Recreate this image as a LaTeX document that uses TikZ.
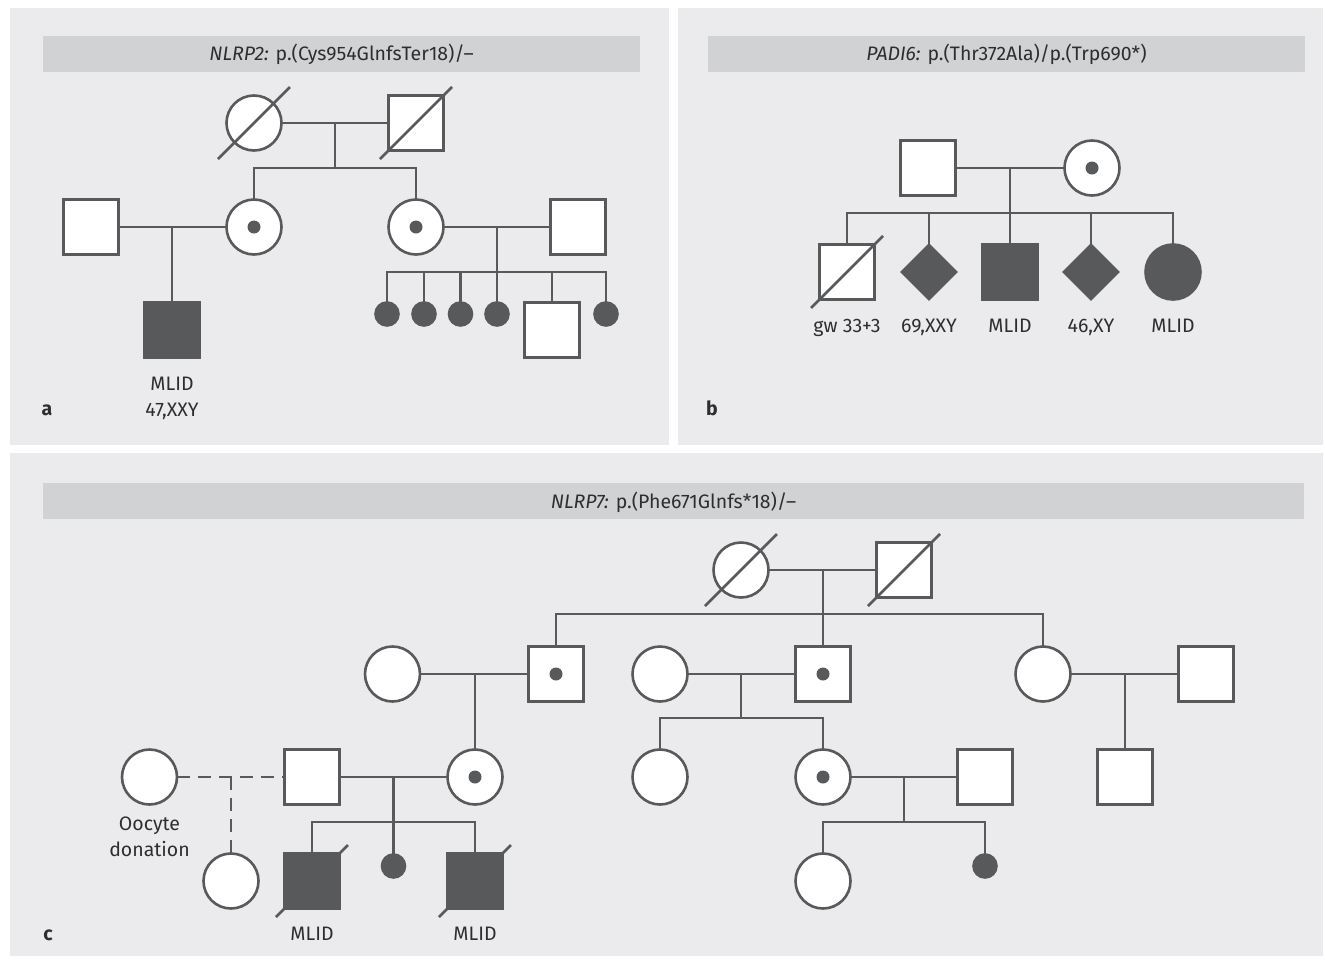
\documentclass[tikz,border=0pt]{standalone}
\usepackage{fontspec}
\setmainfont{Fira Sans}
\usetikzlibrary{shapes.geometric}
\definecolor{ln}{HTML}{58595B}
\definecolor{panel}{HTML}{EBEBED}
\definecolor{bar}{HTML}{D1D2D4}
\definecolor{txt}{HTML}{2E2E2E}
\newcommand\carrierdot[1]{\fill[ln] (#1.center) circle (6.5);}
\newcommand\deadslash[1]{\draw[link] ([shift={(-36,36)}]#1.center) -- ([shift={(36,-36)}]#1.center);}
\begin{document}
\begin{tikzpicture}[x=1pt,y=-1pt,
  every node/.style={font=\fontsize{19.5}{23}\selectfont, text=txt},
  base/.style={draw=ln, line width=2.6pt, fill=white, inner sep=0pt, outer sep=0pt},
  male/.style={base, rectangle, minimum size=55pt},
  female/.style={base, circle, minimum size=55pt},
  unk/.style={base, diamond, minimum width=54pt, minimum height=54pt},
  aff/.style={fill=ln},
  tiny/.style={base, circle, fill=ln, minimum size=23pt},
  lbl/.style={inner sep=0pt, anchor=base},
  plabel/.style={inner sep=0pt, anchor=base, font=\fontsize{19.5}{23}\selectfont\bfseries},
  link/.style={draw=ln, line width=2.6pt},
  dlink/.style={link, dash pattern=on 13pt off 8pt}
]
\fill[white] (0,0) rectangle (1325,962);
\useasboundingbox (0,0) rectangle (1325,962);
% panels
\fill[panel] (10,8) rectangle (669,445);
\fill[panel] (678,8) rectangle (1323,445);
\fill[panel] (10,453) rectangle (1323,956);
\fill[bar] (43,36) rectangle (640,72);
\fill[bar] (708,36) rectangle (1305,72);
\fill[bar] (43,483) rectangle (1304,519);
\node[lbl] (ta) at (341.5,60) {\textit{NLRP2:} p.(Cys954GlnfsTer18)/–};
\node[lbl] (tb) at (1006.5,60) {\textit{PADI6:} p.(Thr372Ala)/p.(Trp690*)};
\node[lbl] (tc) at (673.5,508) {\textit{NLRP7:} p.(Phe671Glnfs*18)/–};
\node[plabel] (la) at (47,415) {a};
\node[plabel] (lb) at (712,415) {b};
\node[plabel] (lc) at (48,940) {c};

% ---------- panel a ----------
\node[female] (aGM) at (254,123) {};
\node[male] (aGF) at (416,123) {};
\coordinate (aJ0) at (335,123);
\coordinate (aS0) at (335,168);
\node[male] (aF1) at (91,227) {};
\node[female] (aM1) at (254,227) {};
\node[female] (aM2) at (416,227) {};
\node[male] (aF2) at (578,227) {};
\coordinate (aJ1) at (172,227);
\coordinate (aJ2) at (497,227);
\coordinate (aS2) at (497,272);
\node[male,aff] (aC1) at (172,330) {};
\node[tiny] (aK1) at (387,314) {};
\node[tiny] (aK2) at (424,314) {};
\node[tiny] (aK3) at (460.5,314) {};
\node[tiny] (aK4) at (497,314) {};
\node[male] (aK5) at (552,330) {};
\node[tiny] (aK6) at (606,314) {};
\draw[link] (aGM) -- (aGF);
\draw[link] (aJ0) -- (aS0);
\draw[link] (aM1.north) |- (aS0) -| (aM2.north);
\draw[link] (aF1) -- (aM1);
\draw[link] (aJ1) -- (aC1.north);
\draw[link] (aM2) -- (aF2);
\draw[link] (aJ2) -- (aS2);
\draw[link] (aK1.north) |- (aS2) -| (aK6.north);
\draw[link] (aK2.north) -- (aK2.north |- aS2);
\draw[link] (aK3.north) -- (aK3.north |- aS2);
\draw[link] (aK4.north) -- (aK4.north |- aS2);
\draw[link] (aK5.north) -- (aK5.north |- aS2);
\deadslash{aGM}
\deadslash{aGF}
\carrierdot{aM1}
\carrierdot{aM2}
\node[lbl] (aT1) at (172,390) {MLID};
\node[lbl] (aT2) at (172,416) {47,XXY};

% ---------- panel b ----------
\node[male] (bF) at (928,168) {};
\node[female] (bM) at (1092,168) {};
\coordinate (bJ) at (1010,168);
\coordinate (bS) at (1010,213);
\node[male] (bC1) at (847,272) {};
\node[unk,aff] (bC2) at (929,272) {};
\node[male,aff] (bC3) at (1010,272) {};
\node[unk,aff] (bC4) at (1091,272) {};
\node[female,aff] (bC5) at (1173,272) {};
\draw[link] (bF) -- (bM);
\draw[link] (bJ) -- (bC3.north);
\draw[link] (bC1.north) |- (bS) -| (bC5.north);
\draw[link] (bC2.north) -- (bC2.north |- bS);
\draw[link] (bC4.north) -- (bC4.north |- bS);
\deadslash{bC1}
\carrierdot{bM}
\node[lbl] (bT1) at (847,332) {gw 33+3};
\node[lbl] (bT2) at (929,332) {69,XXY};
\node[lbl] (bT3) at (1010,332) {MLID};
\node[lbl] (bT4) at (1091,332) {46,XY};
\node[lbl] (bT5) at (1173,332) {MLID};

% ---------- panel c ----------
\node[female] (cGM) at (741,570) {};
\node[male] (cGF) at (904,570) {};
\coordinate (cJ0) at (823,570);
\coordinate (cS0) at (823,614);
% generation II
\node[female] (cA) at (392.5,674) {};
\node[male] (cB) at (556,674) {};
\node[female] (cC) at (660,674) {};
\node[male] (cD) at (823,674) {};
\node[female] (cE) at (1043,674) {};
\node[male] (cF) at (1206,674) {};
\coordinate (cJ1) at (475,674);
\coordinate (cJ2) at (741,674);
\coordinate (cS2) at (741,718);
\coordinate (cJ3) at (1125,674);
% generation III
\node[female] (cG) at (149.5,777) {};
\node[male] (cH) at (312,777) {};
\node[female] (cJ) at (475,777) {};
\node[female] (cS) at (660,777) {};
\node[female] (cN) at (823,777) {};
\node[male] (cO) at (985,777) {};
\node[male] (cR) at (1125,777) {};
\coordinate (cJd) at (231,777);
\coordinate (cJ4) at (393.5,777);
\coordinate (cS4) at (393.5,822);
\coordinate (cJ5) at (904,777);
\coordinate (cS5) at (904,822);
% generation IV
\node[female] (cI) at (231,881) {};
\node[male,aff] (cK) at (312,881) {};
\node[tiny] (cL) at (393.5,866) {};
\node[male,aff] (cM) at (475,881) {};
\node[female] (cP) at (823,881) {};
\node[tiny] (cQ) at (985,866) {};
% links
\draw[link] (cGM) -- (cGF);
\draw[link] (cJ0) -- (cS0);
\draw[link] (cB.north) |- (cS0) -| (cE.north);
\draw[link] (cD.north) -- (cS0);
\draw[link] (cA) -- (cB);
\draw[link] (cJ1) -- (cJ.north);
\draw[link] (cC) -- (cD);
\draw[link] (cJ2) -- (cS2);
\draw[link] (cS.north) |- (cS2) -| (cN.north);
\draw[link] (cE) -- (cF);
\draw[link] (cJ3) -- (cR.north);
\draw[dlink] (cG) -- (cH);
\draw[dlink] (cJd) -- (cI.north);
\draw[link] (cH) -- (cJ);
\draw[link] (cJ4) -- (cL.north);
\draw[link] (cK.north) |- (cS4) -| (cM.north);
\draw[link] (cN) -- (cO);
\draw[link] (cJ5) -- (cS5);
\draw[link] (cP.north) |- (cS5) -| (cQ.north);
\deadslash{cGM}
\deadslash{cGF}
\deadslash{cK}
\deadslash{cM}
\carrierdot{cB}
\carrierdot{cD}
\carrierdot{cJ}
\carrierdot{cN}
\node[lbl] (cT1) at (149.5,830) {Oocyte};
\node[lbl] (cT2) at (149.5,856) {donation};
\node[lbl] (cT3) at (312,940) {MLID};
\node[lbl] (cT4) at (475,940) {MLID};
\end{tikzpicture}
\end{document}
